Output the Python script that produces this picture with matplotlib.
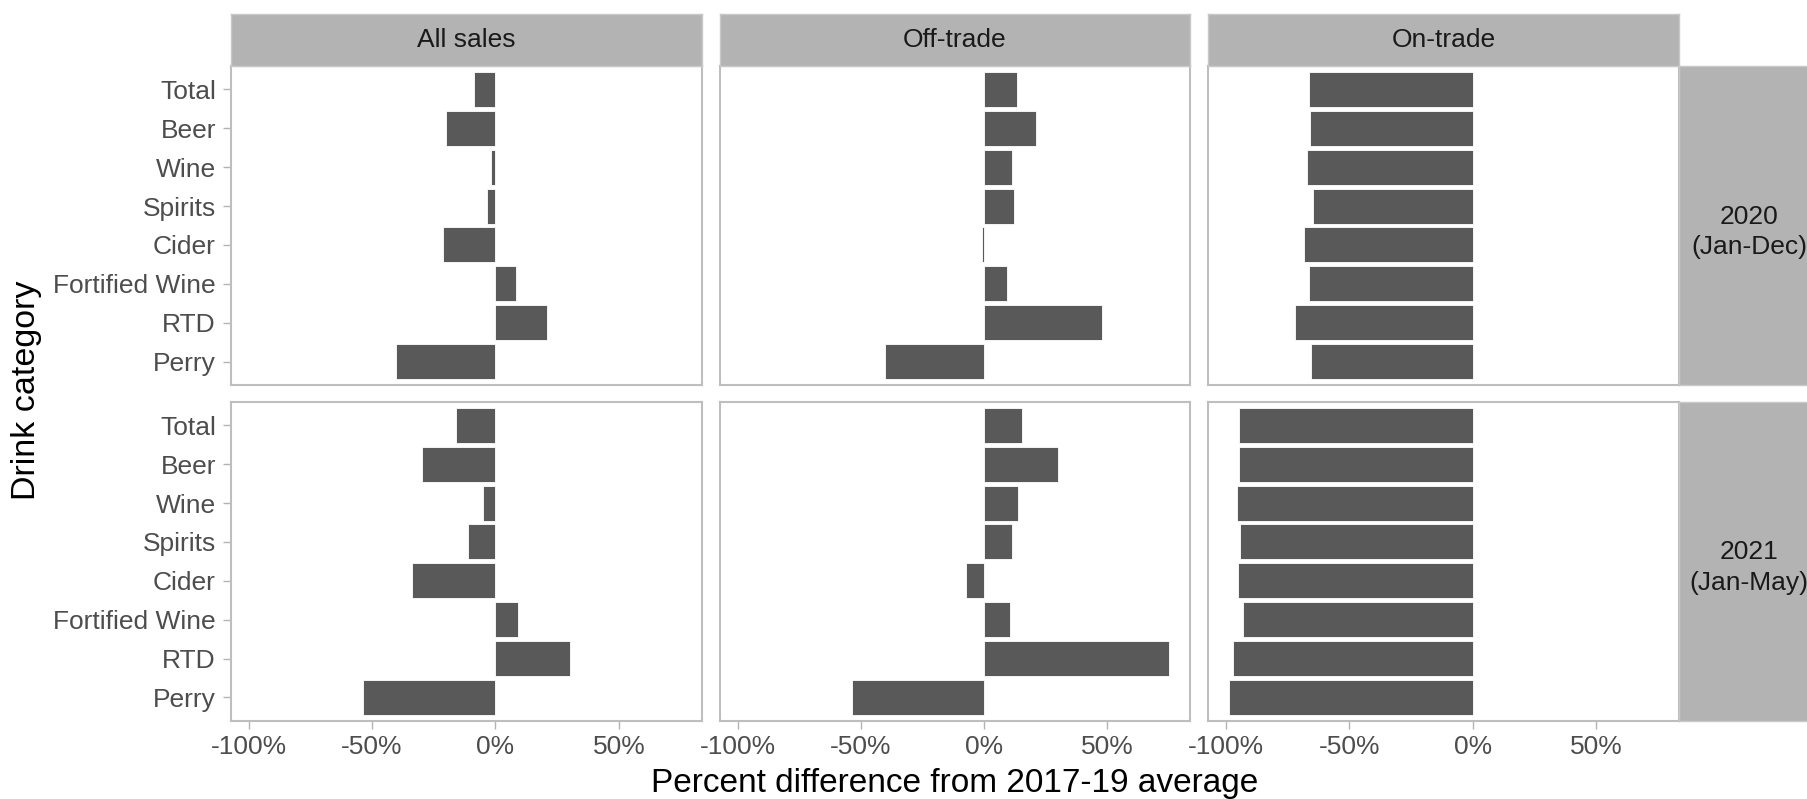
import numpy as np
import matplotlib.pyplot as plt

plt.rcParams['font.family'] = ['Liberation Sans', 'DejaVu Sans']

# drink categories, top to bottom
categories = ['Total', 'Beer', 'Wine', 'Spirits', 'Cider', 'Fortified Wine', 'RTD', 'Perry']
channels = ['All sales', 'Off-trade', 'On-trade']
periods = ['2020\n(Jan-Dec)', '2021\n(Jan-May)']

# percent difference from the 2017-19 average
all_2020 = [-8.7, -19.9, -1.9, -3.3, -21.4, 8.4, 21.0, -40.3]
off_2020 = [13.2, 21.0, 11.3, 12.0, -0.7, 9.3, 48.0, -40.3]
on_2020 = [-66.4, -66.1, -67.2, -64.9, -68.5, -66.4, -71.9, -65.6]
all_2021 = [-16.0, -29.9, -5.2, -11.0, -33.8, 9.1, 30.3, -53.7]
off_2021 = [15.3, 29.8, 13.9, 11.3, -7.2, 10.4, 75.0, -53.8]
on_2021 = [-94.9, -94.9, -95.5, -94.1, -95.2, -93.0, -97.3, -98.7]

values = [[all_2020, off_2020, on_2020],
          [all_2021, off_2021, on_2021]]

W, H = 1807, 799
fig = plt.figure(figsize=(W / 100, H / 100), dpi=100)


def box(x0, y0, x1, y1):
    # pixel box (top-left origin) -> figure fraction rect
    return [x0 / W, 1 - y1 / H, (x1 - x0) / W, (y1 - y0) / H]


col_x = [(230.5, 702.0), (719.6, 1190.4), (1207.7, 1679.2)]
row_y = [(66.0, 385.0), (402.0, 720.7)]

# shared x scale with ggplot-style 5% expansion
flat = np.concatenate([np.array(v) for row in values for v in row])
lo, hi = flat.min(), flat.max()
pad = 0.05 * (hi - lo)
xlim = (lo - pad, hi + pad)

border = '#BEBEBE'
strip_fill = '#B3B3B3'
ypos = np.arange(len(categories))

for r, (y0, y1) in enumerate(row_y):
    for c, (x0, x1) in enumerate(col_x):
        ax = fig.add_axes(box(x0, y0, x1, y1))
        ax.barh(ypos, values[r][c], height=0.9, color='#595959',
                edgecolor='white', linewidth=0.6)
        ax.set_xlim(*xlim)
        ax.set_ylim(len(categories) - 0.4, -0.6)
        for s in ax.spines.values():
            s.set_color(border)
            s.set_linewidth(1.5)
        ax.tick_params(colors='#B3B3B3', width=1.0, length=6,
                       labelcolor='#4D4D4D', labelsize=19, pad=4.5)
        ax.set_yticks(ypos)
        if c == 0:
            ax.set_yticklabels(categories)
        else:
            ax.tick_params(axis='y', left=False, labelleft=False)
        ax.set_xticks([-100, -50, 0, 50])
        if r == 1:
            ax.set_xticklabels(['-100%', '-50%', '0%', '50%'])
        else:
            ax.tick_params(axis='x', bottom=False, labelbottom=False)

# column strips
for c, (x0, x1) in enumerate(col_x):
    sa = fig.add_axes(box(x0, 14.0, x1, 66.0))
    sa.set_facecolor(strip_fill)
    sa.set_xticks([])
    sa.set_yticks([])
    for s in sa.spines.values():
        s.set_color('#C8C8C8')
        s.set_linewidth(1.0)
    sa.text(0.5, 0.5, channels[c], ha='center', va='center',
            fontsize=19, color='#1A1A1A', transform=sa.transAxes)

# row strips
for r, (y0, y1) in enumerate(row_y):
    sa = fig.add_axes(box(1679.2, y0, 1819.0, y1))
    sa.set_facecolor(strip_fill)
    sa.set_xticks([])
    sa.set_yticks([])
    for s in sa.spines.values():
        s.set_color('#C8C8C8')
        s.set_linewidth(1.0)
    sa.text(0.5, 0.48, periods[r], ha='center', va='center',
            fontsize=19, color='#1A1A1A', transform=sa.transAxes,
            linespacing=1.35)

fig.text(954.9 / W, 1 - 792 / H, 'Percent difference from 2017-19 average',
         ha='center', va='baseline', fontsize=24, color='black')
fig.text(27 / W, 1 - 390 / H, 'Drink category', rotation=90,
         ha='center', va='center', fontsize=24.5, color='black')

fig.savefig('out.png', dpi=100, facecolor='white')
